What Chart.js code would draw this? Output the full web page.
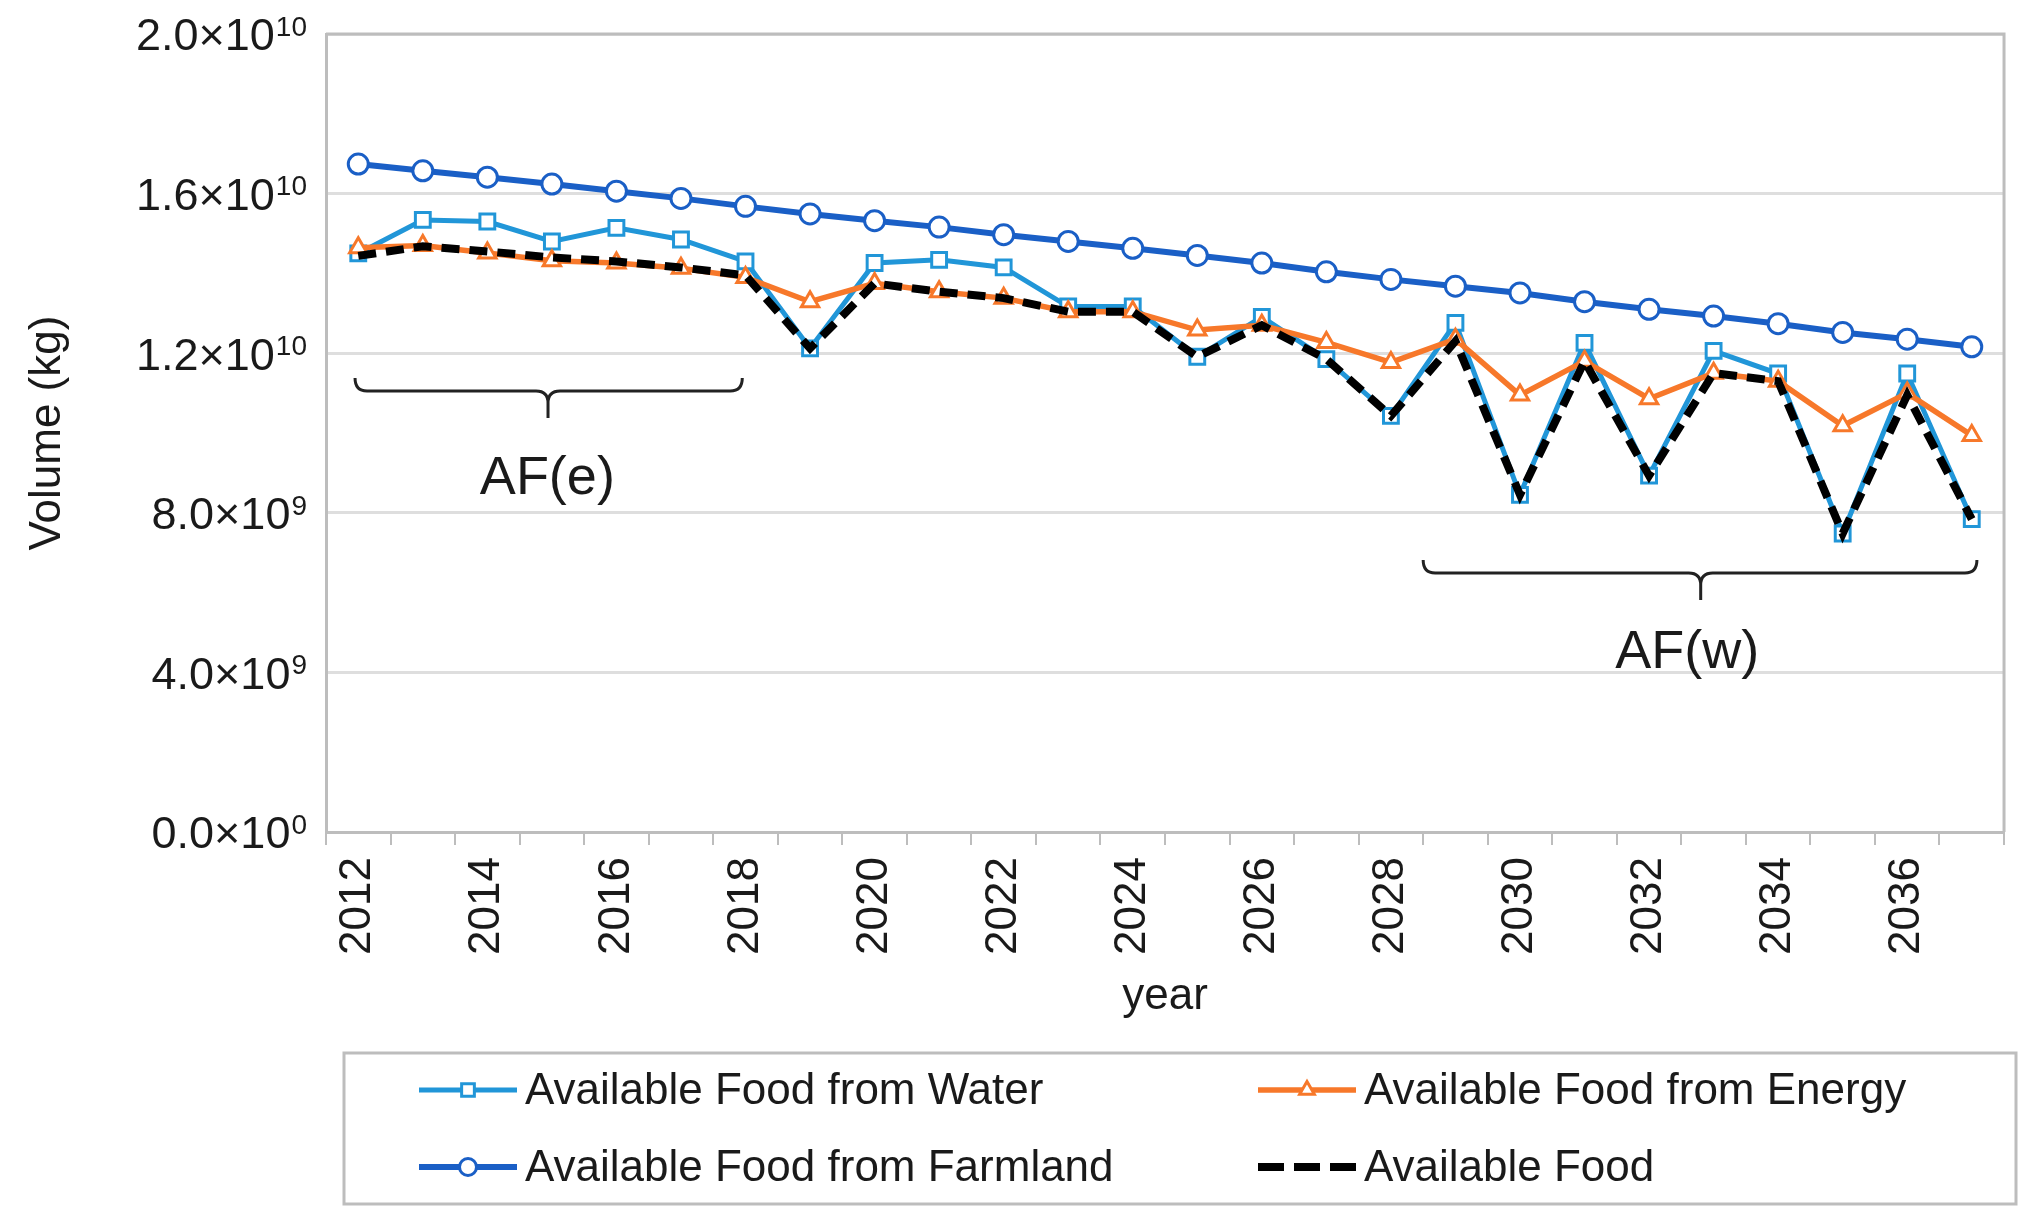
<!DOCTYPE html>
<html>
<head>
<meta charset="utf-8">
<script src="https://cdn.jsdelivr.net/npm/chart.js@4.4.1/dist/chart.umd.min.js"></script>
<style>
  html, body { margin: 0; padding: 0; background: #fff; }
  #wrap { width: 2037px; height: 1229px; }
</style>
</head>
<body>
<div id="wrap"><canvas id="grafico"></canvas></div>
<script>
// Dados
const anos = ["2012", "2013", "2014", "2015", "2016", "2017", "2018", "2019", "2020", "2021", "2022", "2023", "2024",
  "2025", "2026", "2027", "2028", "2029", "2030", "2031", "2032", "2033", "2034", "2035", "2036", "2037"];

const foodWater = [14.50e9, 15.34e9, 15.30e9, 14.80e9, 15.14e9, 14.85e9, 14.30e9, 12.12e9, 14.26e9, 14.34e9, 14.15e9,
  13.17e9, 13.17e9, 11.91e9, 12.91e9, 11.85e9, 10.43e9, 12.76e9, 8.45e9, 12.26e9, 8.93e9, 12.06e9, 11.49e9, 7.48e9,
  11.49e9, 7.84e9];
const foodEnergy = [14.64e9, 14.70e9, 14.51e9, 14.32e9, 14.26e9, 14.13e9, 13.90e9, 13.29e9, 13.75e9, 13.54e9, 13.38e9,
  13.04e9, 13.04e9, 12.58e9, 12.70e9, 12.27e9, 11.77e9, 12.35e9, 10.95e9, 11.80e9, 10.86e9, 11.50e9, 11.30e9, 10.18e9,
  11.00e9, 9.94e9];
const foodFarmland = [16.74e9, 16.57e9, 16.41e9, 16.24e9, 16.06e9, 15.88e9, 15.68e9, 15.49e9, 15.32e9, 15.16e9, 14.97e9,
  14.80e9, 14.63e9, 14.45e9, 14.26e9, 14.04e9, 13.85e9, 13.68e9, 13.51e9, 13.29e9, 13.10e9, 12.93e9, 12.74e9, 12.52e9,
  12.35e9, 12.16e9];
const foodAvailable = [14.44e9, 14.68e9, 14.55e9, 14.40e9, 14.30e9, 14.15e9, 13.95e9, 12.12e9, 13.75e9, 13.54e9, 13.38e9,
  13.04e9, 13.04e9, 11.91e9, 12.70e9, 11.85e9, 10.43e9, 12.30e9, 8.45e9, 11.80e9, 8.93e9, 11.50e9, 11.30e9, 7.48e9,
  10.95e9, 7.84e9];

// Rótulos do eixo y (mantissa e expoente)
const yTickValues = [0, 4e9, 8e9, 1.2e10, 1.6e10, 2e10];
const yTickMantissa = ["0.0×10", "4.0×10", "8.0×10", "1.2×10", "1.6×10", "2.0×10"];
const yTickExp = ["0", "9", "9", "10", "10", "10"];

// Chaves (anotações) em coordenadas dos eixos
const braceText = ["AF(e)", "AF(w)"];
const braceFrom = [-0.05, 16.5];
const braceTo = [5.95, 25.08];
const braceMid = [2.94, 20.8];
const braceLevel = [11.05e9, 6.49e9];
const braceTextX = [2.93, 20.59];
const braceTextY = [8.47e9, 4.10e9];

const FONTE = '"Liberation Sans", Arial, sans-serif';
const COR_TEXTO = "#1a1a1a";
const COR_EIXO = "#bdbdbd";

Chart.defaults.font.family = FONTE;
Chart.defaults.color = COR_TEXTO;

// Moldura, rótulos do eixo y com expoente
const molduraPlugin = {
  id: "moldura",
  beforeDatasetsDraw(chart) {
    const { ctx, chartArea } = chart;
    const y = chart.scales.y;
    ctx.save();
    ctx.strokeStyle = COR_EIXO;
    ctx.lineWidth = 3;
    ctx.beginPath();
    ctx.moveTo(chartArea.left, chartArea.top);
    ctx.lineTo(chartArea.right, chartArea.top);
    ctx.lineTo(chartArea.right, chartArea.bottom);
    ctx.stroke();

    ctx.fillStyle = COR_TEXTO;
    ctx.textBaseline = "middle";
    ctx.textAlign = "right";
    const xRight = chartArea.left - 19;
    yTickValues.forEach((v, i) => {
      const py = y.getPixelForValue(v);
      ctx.font = "28px " + FONTE;
      const expW = ctx.measureText(yTickExp[i]).width;
      ctx.fillText(yTickExp[i], xRight, py - 6);
      ctx.font = "45px " + FONTE;
      ctx.fillText(yTickMantissa[i], xRight - expW - 1, py + 4);
    });
    ctx.restore();
  }
};

// Desenha uma chave horizontal
function desenhaChave(ctx, x1, x2, xm, yb) {
  const r = 12, rise = 13, drop = 27;
  ctx.beginPath();
  ctx.moveTo(x1, yb - rise);
  ctx.quadraticCurveTo(x1, yb, x1 + r, yb);
  ctx.lineTo(xm - r, yb);
  ctx.quadraticCurveTo(xm, yb, xm, yb + r);
  ctx.lineTo(xm, yb + drop);
  ctx.moveTo(xm, yb + r);
  ctx.quadraticCurveTo(xm, yb, xm + r, yb);
  ctx.lineTo(x2 - r, yb);
  ctx.quadraticCurveTo(x2, yb, x2, yb - rise);
  ctx.stroke();
}

const anotacoesPlugin = {
  id: "anotacoes",
  afterDraw(chart) {
    const { ctx } = chart;
    const xs = chart.scales.x, ys = chart.scales.y;
    ctx.save();
    ctx.strokeStyle = "#222";
    ctx.lineWidth = 3;
    ctx.fillStyle = COR_TEXTO;
    ctx.font = "54px " + FONTE;
    ctx.textAlign = "center";
    ctx.textBaseline = "alphabetic";
    braceText.forEach((txt, i) => {
      const yb = ys.getPixelForValue(braceLevel[i]);
      desenhaChave(ctx, xs.getPixelForValue(braceFrom[i]), xs.getPixelForValue(braceTo[i]),
        xs.getPixelForValue(braceMid[i]), yb);
      ctx.fillText(txt, xs.getPixelForValue(braceTextX[i]), ys.getPixelForValue(braceTextY[i]));
    });
    ctx.restore();
  }
};

// Legenda em caixa, duas colunas
const legendaPlugin = {
  id: "legendaCaixa",
  afterDraw(chart) {
    const { ctx } = chart;
    const colX = [419, 1258];
    const rowY = [1090, 1167];
    ctx.save();
    ctx.strokeStyle = COR_EIXO;
    ctx.lineWidth = 3;
    ctx.strokeRect(344, 1053, 2016 - 344, 1204 - 1053);

    chart.data.datasets.forEach((ds, i) => {
      const x0 = colX[i % 2];
      const y0 = rowY[Math.floor(i / 2)];
      ctx.save();
      ctx.strokeStyle = ds.borderColor;
      ctx.lineWidth = ds.borderWidth;
      ctx.setLineDash(ds.borderDash ? [26, 10] : []);
      ctx.beginPath();
      ctx.moveTo(x0, y0);
      ctx.lineTo(x0 + 98, y0);
      ctx.stroke();
      ctx.restore();
      if (ds.pointRadius > 0) {
        ctx.save();
        ctx.fillStyle = ds.pointBackgroundColor;
        ctx.strokeStyle = ds.pointBorderColor;
        ctx.lineWidth = ds.pointBorderWidth;
        Chart.helpers.drawPoint(ctx, {
          pointStyle: ds.pointStyle,
          rotation: 0,
          radius: ds.pointRadius - 1.5,
          borderWidth: ds.pointBorderWidth
        }, x0 + 49, y0);
        ctx.restore();
      }
      ctx.fillStyle = COR_TEXTO;
      ctx.font = "44px " + FONTE;
      ctx.textAlign = "left";
      ctx.textBaseline = "middle";
      ctx.fillText(ds.label, x0 + 106, y0 + 2);
    });
    ctx.restore();
  }
};

const ctx = document.getElementById("grafico").getContext("2d");
new Chart(ctx, {
  type: "line",
  data: {
    labels: anos,
    datasets: [
      {
        label: "Available Food from Water",
        data: foodWater,
        borderColor: "#2196d8",
        borderWidth: 5,
        pointStyle: "rect",
        pointRadius: 10.5,
        pointBackgroundColor: "#ffffff",
        pointBorderColor: "#2196d8",
        pointBorderWidth: 3,
        order: 2
      },
      {
        label: "Available Food from Energy",
        data: foodEnergy,
        borderColor: "#f7782a",
        borderWidth: 5.5,
        pointStyle: "triangle",
        pointRadius: 10,
        pointBackgroundColor: "#ffffff",
        pointBorderColor: "#f7782a",
        pointBorderWidth: 3,
        order: 1
      },
      {
        label: "Available Food from Farmland",
        data: foodFarmland,
        borderColor: "#1a5fc6",
        borderWidth: 6,
        pointStyle: "circle",
        pointRadius: 10,
        pointBackgroundColor: "#ffffff",
        pointBorderColor: "#1a5fc6",
        pointBorderWidth: 3,
        order: 3
      },
      {
        label: "Available Food",
        data: foodAvailable,
        borderColor: "#000000",
        borderWidth: 8,
        borderDash: [18, 10],
        pointRadius: 0,
        order: 0
      }
    ]
  },
  options: {
    responsive: true,
    maintainAspectRatio: false,
    devicePixelRatio: 1,
    animation: false,
    layout: { padding: { left: 0, top: 34, right: 23, bottom: 199 } },
    plugins: {
      legend: { display: false },
      tooltip: { enabled: false }
    },
    elements: { line: { tension: 0 } },
    scales: {
      x: {
        offset: true,
        grid: {
          offset: true,
          drawOnChartArea: false,
          drawTicks: true,
          tickLength: 13,
          color: COR_EIXO,
          lineWidth: 2
        },
        border: { display: true, color: COR_EIXO, width: 3 },
        ticks: {
          autoSkip: false,
          minRotation: 90,
          maxRotation: 90,
          padding: 12,
          color: COR_TEXTO,
          font: { size: 44 },
          callback: (val, i) => (i % 2 === 0 ? anos[i] : "")
        },
        title: {
          display: true,
          text: "year",
          color: COR_TEXTO,
          font: { size: 44 },
          padding: { top: 0, bottom: 7 }
        },
        afterFit: (s) => { s.height = 198; }
      },
      y: {
        min: 0,
        max: 2e10,
        ticks: { stepSize: 4e9, display: false },
        grid: { color: "#dedede", lineWidth: 3, drawTicks: false },
        border: { display: true, color: COR_EIXO, width: 3 },
        title: {
          display: true,
          text: "Volume (kg)",
          color: COR_TEXTO,
          font: { size: 44 },
          padding: { top: 21, bottom: 0 }
        },
        afterFit: (s) => { s.width = 326; }
      }
    }
  },
  plugins: [molduraPlugin, anotacoesPlugin, legendaPlugin]
});
</script>
</body>
</html>
